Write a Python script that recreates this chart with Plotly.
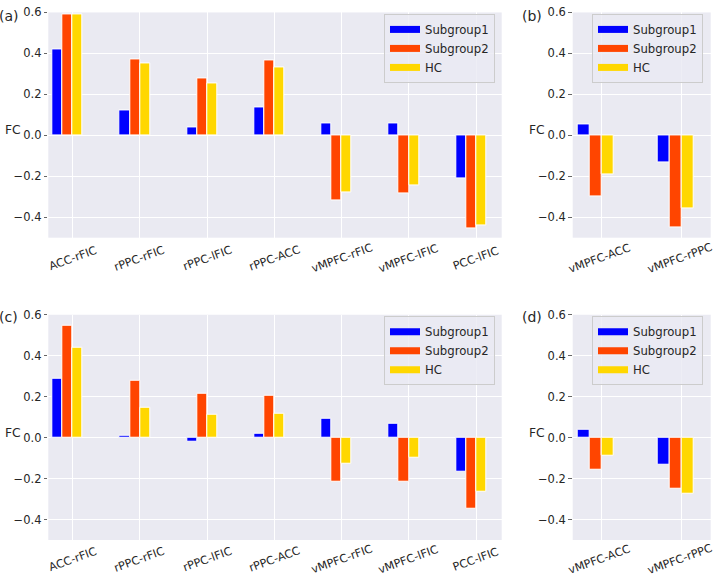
import plotly.graph_objects as go

# ---------------- data ----------------
series_names = ["Subgroup1", "Subgroup2", "HC"]
series_colors = ["#0000FF", "#FF4500", "#FFD700"]

cats_left = ["ACC-rFIC", "rPPC-rFIC", "rPPC-lFIC", "rPPC-ACC", "vMPFC-rFIC", "vMPFC-lFIC", "PCC-lFIC"]
cats_right = ["vMPFC-ACC", "vMPFC-rPPC"]

# panel (a)
a_sub1 = [0.42, 0.12, 0.037, 0.135, 0.056, 0.06, -0.212]
a_sub2 = [0.59, 0.372, 0.28, 0.365, -0.318, -0.283, -0.455]
a_hc = [0.59, 0.35, 0.254, 0.333, -0.277, -0.246, -0.44]
# panel (b)
b_sub1 = [0.051, -0.134]
b_sub2 = [-0.30, -0.449]
b_hc = [-0.193, -0.357]
# panel (c)
c_sub1 = [0.289, 0.008, -0.022, 0.02, 0.092, 0.069, -0.169]
c_sub2 = [0.548, 0.277, 0.213, 0.203, -0.215, -0.215, -0.347]
c_hc = [0.437, 0.144, 0.111, 0.116, -0.127, -0.10, -0.263]
# panel (d)
d_sub1 = [0.039, -0.131]
d_sub2 = [-0.156, -0.25]
d_hc = [-0.089, -0.274]

y_ticks = [-0.4, -0.2, 0.0, 0.2, 0.4, 0.6]
panel_labels = ["(a)", "(b)", "(c)", "(d)"]
y_label = "FC"

# ---------------- styling ----------------
FONT = "DejaVu Sans"
TXT = "#262626"
BG = "#EAEAF2"
W, H = 715, 580
bar_w = 0.15
offsets = [-0.225, -0.075, 0.075]

fig = go.Figure()

panels = [
    (cats_left, [a_sub1, a_sub2, a_hc], "x", "y", "legend"),
    (cats_right, [b_sub1, b_sub2, b_hc], "x2", "y2", "legend2"),
    (cats_left, [c_sub1, c_sub2, c_hc], "x3", "y3", "legend3"),
    (cats_right, [d_sub1, d_sub2, d_hc], "x4", "y4", "legend4"),
]

for cats, vals, xa, ya, lg in panels:
    for s, (name, color, off) in enumerate(zip(series_names, series_colors, offsets)):
        fig.add_trace(go.Bar(
            x=[i + off for i in range(len(cats))],
            y=vals[s],
            width=bar_w,
            marker=dict(color=color, line=dict(color="white", width=1)),
            name=name, showlegend=False,
            xaxis=xa, yaxis=ya,
        ))
    for name, color in zip(series_names, series_colors):
        fig.add_trace(go.Scatter(
            x=[None], y=[None], mode="lines",
            line=dict(color=color, width=7),
            name=name, legend=lg, showlegend=True,
            xaxis=xa, yaxis=ya,
        ))

def px_x(p):
    return p / W

def px_y(p):
    return 1 - p / H

xdom_left = [px_x(48.3), px_x(501.7)]
xdom_right = [px_x(572.7), px_x(710.7)]
ydom_top = [px_y(233.5), px_y(5.5)]
ydom_bot = [px_y(539.5), px_y(311.5)]

def xax(dom, n, rng, anchor):
    return dict(domain=dom, range=rng, tickvals=list(range(n)), showticklabels=False,
                showgrid=True, gridcolor="white", gridwidth=1.2, zeroline=False,
                showline=False, ticks="", anchor=anchor, fixedrange=True)

def yax(dom, anchor):
    return dict(domain=dom, range=[-0.5, 0.6], tickvals=y_ticks, tickformat=".1f",
                showgrid=True, gridcolor="white", gridwidth=1.2, zeroline=False,
                showline=False, ticks="outside", ticklen=3.5, tickwidth=1, tickcolor="#666",
                tickfont=dict(family=FONT, size=11.5, color=TXT), anchor=anchor, fixedrange=True)

def legend_cfg(xr, yt):
    return dict(x=px_x(xr), y=px_y(yt), xanchor="right", yanchor="top",
                bgcolor="rgba(234,234,242,0.8)", bordercolor="#CCCCCC", borderwidth=1,
                font=dict(family=FONT, size=11.7, color=TXT), itemwidth=30,
                tracegroupgap=0)

fig.update_layout(
    width=W, height=H,
    margin=dict(l=0, r=0, t=0, b=0),
    paper_bgcolor="white", plot_bgcolor=BG,
    font=dict(family=FONT, color=TXT),
    bargap=0, barmode="overlay",
    xaxis=xax(xdom_left, len(cats_left), [-0.363, 6.382], "y"),
    yaxis=yax(ydom_top, "x"),
    xaxis2=xax(xdom_right, len(cats_right), [-0.366, 1.363], "y2"),
    yaxis2=yax(ydom_top, "x2"),
    xaxis3=xax(xdom_left, len(cats_left), [-0.363, 6.382], "y3"),
    yaxis3=yax(ydom_bot, "x3"),
    xaxis4=xax(xdom_right, len(cats_right), [-0.366, 1.363], "y4"),
    yaxis4=yax(ydom_bot, "x4"),
    legend=legend_cfg(495, 7),
    legend2=legend_cfg(703, 7),
    legend3=legend_cfg(495, 313),
    legend4=legend_cfg(703, 313),
    showlegend=True,
)

annotations = []
# rotated category labels, centered under each tick
for cats, xa, ycen, xs in [(cats_left, "x", 254.5, 0), (cats_right, "x2", 254.5, -2),
                           (cats_left, "x3", 559.5, 0), (cats_right, "x4", 559.5, -2)]:
    for i, c in enumerate(cats):
        annotations.append(dict(x=i, xref=xa, y=px_y(ycen), yref="paper", text=c,
                                showarrow=False, textangle=-20, xanchor="center", yanchor="middle",
                                xshift=xs, font=dict(family=FONT, size=11.3, color=TXT)))
# FC labels
for xc, yc in [(12.5, 125), (537, 124.5), (12.5, 431), (537, 431.5)]:
    annotations.append(dict(x=px_x(xc), y=px_y(yc), xref="paper", yref="paper", text=y_label,
                            showarrow=False, xanchor="center", yanchor="middle",
                            font=dict(family=FONT, size=12.3, color=TXT)))
# panel labels
for lab, xl, yc in zip(panel_labels, [0, 522.7, 0, 522.7], [9, 9, 314, 314]):
    annotations.append(dict(x=px_x(xl), y=px_y(yc), xref="paper", yref="paper", text=lab,
                            showarrow=False, xanchor="left", yanchor="middle", xshift=-3,
                            font=dict(family=FONT, size=14, color=TXT)))
fig.update_layout(annotations=annotations)

fig.write_html("out.html", config={"displayModeBar": False},
               post_script="document.body.style.margin='0';")
